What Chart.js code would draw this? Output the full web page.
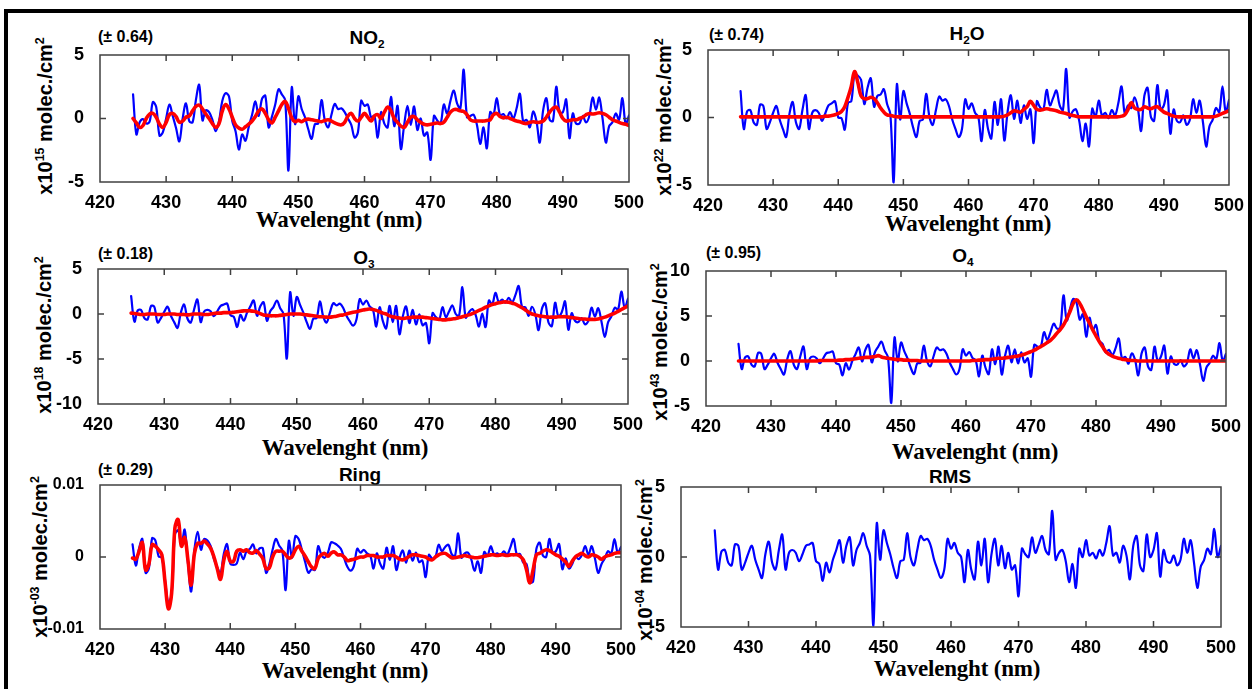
<!DOCTYPE html>
<html>
<head>
<meta charset="utf-8">
<script src="https://cdn.jsdelivr.net/npm/chart.js@4.4.1/dist/chart.umd.min.js"></script>
<style>
body        { margin: 0; background: #fff; width: 1255px; height: 689px; overflow: hidden; position: relative;
              font-family: "Liberation Sans", Arial, sans-serif; font-weight: bold; color: #000; }
#frame      { position: absolute; left: 4px; top: 9px; width: 1248px; height: 700px; box-sizing: border-box;
              border: 4px solid #000; border-bottom: none; }
.panel      { position: absolute; }
.txt        { position: absolute; white-space: nowrap; line-height: 1; }
.c          { transform: translate(-50%, -50%); }
.l          { transform: translate(0, -50%); }
.v          { transform: translate(-50%, -50%) rotate(-90deg); }
.title      { font-size: 19px; }
.err        { font-size: 16px; }
.xlab       { font-family: "Liberation Serif", "Times New Roman", serif; font-size: 23px; letter-spacing: -0.2px; }
.ylab       { font-size: 20px; }
sub, sup    { font-size: 0.62em; line-height: 0; }
</style>
</head>
<body>

<div id="frame"></div>

<div class="txt title c" style="left:367px; top:37px;">NO<sub>2</sub></div>
<div class="txt title c" style="left:967px; top:33px;">H<sub>2</sub>O</div>
<div class="txt title c" style="left:364px; top:257px;">O<sub>3</sub></div>
<div class="txt title c" style="left:963px; top:255px;">O<sub>4</sub></div>
<div class="txt title c" style="left:360px; top:474px;">Ring</div>
<div class="txt title c" style="left:950px; top:476px;">RMS</div>

<div class="txt err l" style="left:98px; top:37px;">(± 0.64)</div>
<div class="txt err l" style="left:709px; top:35px;">(± 0.74)</div>
<div class="txt err l" style="left:98px; top:254px;">(± 0.18)</div>
<div class="txt err l" style="left:706px; top:253px;">(± 0.95)</div>
<div class="txt err l" style="left:98px; top:470px;">(± 0.29)</div>

<div class="txt xlab c" style="left:339px; top:219px;">Wavelenght (nm)</div>
<div class="txt xlab c" style="left:968px; top:223px;">Wavelenght (nm)</div>
<div class="txt xlab c" style="left:345px; top:447px;">Wavelenght (nm)</div>
<div class="txt xlab c" style="left:975px; top:451px;">Wavelenght (nm)</div>
<div class="txt xlab c" style="left:345px; top:670px;">Wavelenght (nm)</div>
<div class="txt xlab c" style="left:957px; top:668px;">Wavelenght (nm)</div>

<div class="txt ylab v" style="left:45px; top:116px;">x10<sup>15</sup> molec./cm<sup>2</sup></div>
<div class="txt ylab v" style="left:664px; top:117px;">x10<sup>22</sup> molec./cm<sup>2</sup></div>
<div class="txt ylab v" style="left:44px; top:335px;">x10<sup>18</sup> molec./cm<sup>2</sup></div>
<div class="txt ylab v" style="left:660px; top:342px;">x10<sup>43</sup> molec./cm<sup>2</sup></div>
<div class="txt ylab v" style="left:40px; top:557px;">x10<sup>-03</sup> molec./cm<sup>2</sup></div>
<div class="txt ylab v" style="left:645px; top:560px;">x10<sup>-04</sup> molec./cm<sup>2</sup></div>

<script>

// wavelength grid (nm), 0.5 nm steps
var WAVELENGTHS = [
    425, 425.5, 426, 426.5, 427, 427.5, 428, 428.5, 429, 429.5,
    430, 430.5, 431, 431.5, 432, 432.5, 433, 433.5, 434, 434.5,
    435, 435.5, 436, 436.5, 437, 437.5, 438, 438.5, 439, 439.5,
    440, 440.5, 441, 441.5, 442, 442.5, 443, 443.5, 444, 444.5,
    445, 445.5, 446, 446.5, 447, 447.5, 448, 448.5, 449, 449.5,
    450, 450.5, 451, 451.5, 452, 452.5, 453, 453.5, 454, 454.5,
    455, 455.5, 456, 456.5, 457, 457.5, 458, 458.5, 459, 459.5,
    460, 460.5, 461, 461.5, 462, 462.5, 463, 463.5, 464, 464.5,
    465, 465.5, 466, 466.5, 467, 467.5, 468, 468.5, 469, 469.5,
    470, 470.5, 471, 471.5, 472, 472.5, 473, 473.5, 474, 474.5,
    475, 475.5, 476, 476.5, 477, 477.5, 478, 478.5, 479, 479.5,
    480, 480.5, 481, 481.5, 482, 482.5, 483, 483.5, 484, 484.5,
    485, 485.5, 486, 486.5, 487, 487.5, 488, 488.5, 489, 489.5,
    490, 490.5, 491, 491.5, 492, 492.5, 493, 493.5, 494, 494.5,
    495, 495.5, 496, 496.5, 497, 497.5, 498, 498.5, 499, 499.5,
    500
];

// fit residual
var RESIDUAL = [
    1.9, -0.9, 0.4, 0.5, -0.4, -0.6, 0.9, 0.8, -0.9, -0.4,
    0.3, 0.8, -0.2, -0.9, -1.5, 0.2, 1.1, -0.4, -0.9, 0.5,
    1.6, -0.9, 0.3, 0.5, 0.3, -0.3, 0.2, 0.8, 0.9, 1.0,
    -0.3, -0.5, -1.7, -0.4, -1.1, -0.2, 0.5, 1.2, -0.4, 0.8,
    1.4, -0.6, 0.5, 1.0, 1.7, 0.8, 0.1, -4.9, 2.4, -0.2,
    1.9, 1.0, 0.2, -0.8, -1.5, -0.3, -0.2, 1.7, 0.0, -0.6,
    0.5, 1.5, 1.2, 1.3, 0.8, -0.2, -0.9, -1.5, -0.9, 1.3,
    0.6, 1.0, 0.3, 0.0, -1.8, 0.5, -0.9, -1.6, 1.1, -0.6,
    1.3, -1.8, 0.2, 1.3, -0.6, 0.8, -0.8, 0.3, -0.9, -0.6,
    -2.8, 0.6, 0.2, 0.0, 1.4, 0.3, 0.9, 1.5, 0.5, 0.2,
    3.3, -0.2, 0.3, 0.5, -0.3, -1.8, -0.5, -2.2, 0.6, 0.0,
    1.2, 0.1, 0.3, -0.1, 0.5, 0.1, 1.0, 2.2, 0.1, 0.3,
    -0.4, 0.8, 0.1, -1.6, 0.8, 1.5, -0.6, -1.0, 1.6, 0.0,
    0.5, 1.7, -1.4, 0.5, -0.3, -0.4, 0.1, -0.6, -0.2, 1.3,
    0.3, 1.2, -0.4, -2.2, -0.7, -0.2, 0.6, 0.2, 2.0, 0.0,
    0.8
];

// fitted cross sections (red curves)
var FIT_NO2 = [
    0.0, -0.35, -0.7, -0.55, 0.0, 0.35, 0.4, 0.1, -0.45, -0.7,
    -0.3, 0.3, 0.4, 0.15, -0.3, -0.2, 0.1, 0.2, 0.6, 0.95,
    1.05, 0.75, 0.35, 0.0, -0.4, -0.7, -0.4, 0.6, 1.1, 0.75,
    0.1, -0.5, -0.75, -0.85, -0.65, -0.45, -0.2, 0.15, 0.6, 0.75,
    0.4, -0.1, -0.35, 0.1, 0.6, 1.1, 1.35, 0.8, 0.05, -0.25,
    -0.15, -0.25, -0.1, -0.05, -0.1, -0.15, -0.2, -0.25, -0.15, -0.1,
    -0.2, -0.35, -0.45, -0.5, -0.3, 0.2, 0.4, 0.0, -0.2, 0.1,
    0.4, 0.1, -0.2, 0.2, 0.3, 0.0, 0.5, 0.9, 0.6, 0.0,
    -0.3, -0.6, -0.7, -0.3, 0.1, 0.15, -0.1, -0.3, -0.45, -0.5,
    -0.45, -0.4, -0.35, -0.4, -0.3, 0.1, 0.5, 0.7, 0.7, 0.6,
    0.55, 0.3, -0.1, -0.2, -0.2, -0.2, -0.2, -0.15, -0.1, 0.3,
    0.4, 0.15, 0.05, 0.1, 0.0, -0.1, -0.2, -0.25, -0.35, -0.4,
    -0.3, -0.25, -0.3, -0.3, -0.2, 0.1, 0.5, 0.8, 0.9, 0.5,
    0.0, -0.2, -0.15, -0.1, -0.1, 0.0, 0.1, 0.3, 0.4, 0.35,
    0.4, 0.45, 0.4, 0.3, 0.1, -0.1, -0.2, -0.3, -0.4, -0.45,
    -0.55
];

var FIT_H2O = [
    0.05, 0.05, 0.05, 0.05, 0.05, 0.05, 0.05, 0.05, 0.05, 0.05,
    0.05, 0.05, 0.05, 0.05, 0.05, 0.05, 0.05, 0.05, 0.05, 0.05,
    0.05, 0.05, 0.05, 0.05, 0.05, 0.05, 0.1, 0.1, 0.15, 0.2,
    0.3, 0.45, 0.8, 1.5, 2.3, 3.4, 2.6, 1.6, 1.4, 1.4,
    1.5, 1.4, 1.1, 0.7, 0.4, 0.2, 0.15, 0.1, 0.05, 0.05,
    0.05, 0.05, 0.05, 0.05, 0.05, 0.05, 0.05, 0.05, 0.05, 0.05,
    0.05, 0.05, 0.05, 0.05, 0.05, 0.05, 0.05, 0.05, 0.05, 0.05,
    0.05, 0.05, 0.05, 0.05, 0.05, 0.05, 0.05, 0.05, 0.05, 0.05,
    0.05, 0.1, 0.2, 0.35, 0.5, 0.45, 0.4, 0.6, 0.8, 1.2,
    0.9, 0.6, 0.55, 0.6, 0.65, 0.6, 0.55, 0.5, 0.4, 0.35,
    0.3, 0.2, 0.15, 0.1, 0.05, 0.05, 0.05, 0.05, 0.05, 0.05,
    0.05, 0.05, 0.05, 0.05, 0.05, 0.05, 0.05, 0.1, 0.2, 0.6,
    1.1, 0.7, 0.6, 0.6, 0.8, 0.7, 0.65, 0.75, 0.8, 0.6,
    0.4, 0.3, 0.2, 0.1, 0.05, 0.05, 0.05, 0.05, 0.05, 0.05,
    0.05, 0.05, 0.05, 0.05, 0.05, 0.05, 0.1, 0.2, 0.3, 0.4,
    0.5
];

var FIT_O3 = [
    0.1, 0.05, 0.0, -0.05, -0.05, 0.0, 0.0, 0.0, -0.05, -0.05,
    -0.05, 0.0, 0.0, 0.0, -0.05, -0.05, -0.05, -0.1, -0.05, 0.0,
    0.0, 0.0, -0.05, -0.05, 0.0, 0.05, 0.1, 0.1, 0.15, 0.15,
    0.15, 0.2, 0.25, 0.3, 0.35, 0.35, 0.35, 0.3, 0.2, 0.05,
    -0.1, -0.15, -0.2, -0.2, -0.2, -0.15, -0.1, -0.05, 0.0, 0.0,
    0.0, 0.0, -0.05, -0.1, -0.15, -0.2, -0.25, -0.3, -0.3, -0.35,
    -0.35, -0.3, -0.25, -0.15, -0.1, 0.0, 0.1, 0.2, 0.25, 0.35,
    0.45, 0.5, 0.55, 0.5, 0.4, 0.25, 0.1, 0.0, -0.2, -0.3,
    -0.4, -0.45, -0.5, -0.45, -0.4, -0.35, -0.35, -0.35, -0.35, -0.4,
    -0.45, -0.5, -0.55, -0.6, -0.65, -0.65, -0.6, -0.55, -0.5, -0.4,
    -0.3, -0.2, -0.1, 0.05, 0.2, 0.4, 0.55, 0.75, 0.9, 1.05,
    1.15, 1.25, 1.3, 1.35, 1.3, 1.2, 1.1, 0.9, 0.7, 0.45,
    0.2, 0.0, -0.1, -0.2, -0.25, -0.3, -0.35, -0.35, -0.35, -0.3,
    -0.3, -0.3, -0.35, -0.4, -0.45, -0.5, -0.55, -0.55, -0.6, -0.6,
    -0.6, -0.55, -0.45, -0.35, -0.2, -0.05, 0.1, 0.3, 0.5, 0.7,
    0.9
];

var FIT_O4 = [
    0, 0, 0, 0, 0, 0, 0, 0, 0, 0,
    0, 0, 0, 0, 0, 0, 0, 0, 0, 0,
    0, 0, 0, 0, 0, 0.05, 0.05, 0.05, 0.05, 0.05,
    0.05, 0.1, 0.1, 0.15, 0.15, 0.2, 0.25, 0.3, 0.35, 0.4,
    0.4, 0.45, 0.5, 0.6, 0.45, 0.35, 0.3, 0.25, 0.2, 0.15,
    0.15, 0.1, 0.1, 0.05, 0.05, 0.05, 0, 0, 0, 0,
    0, 0, 0, 0, 0, 0, 0, 0, 0, 0,
    0, 0, 0.05, 0.05, 0.1, 0.1, 0.15, 0.15, 0.2, 0.25,
    0.3, 0.3, 0.35, 0.4, 0.45, 0.5, 0.55, 0.65, 0.75, 0.9,
    1.05, 1.2, 1.4, 1.6, 1.8, 2.05, 2.3, 2.65, 3.1, 3.5,
    4.0, 4.7, 5.5, 6.4, 6.8, 6.4, 5.7, 4.9, 4.2, 3.45,
    2.8, 2.15, 1.6, 1.05, 0.75, 0.55, 0.4, 0.3, 0.2, 0.15,
    0.1, 0.05, 0.05, 0, 0, 0, 0, 0, 0, 0,
    0, 0, 0, 0, 0, 0, 0, 0, 0, 0,
    0, 0, 0, 0, 0, 0, 0, 0, 0, 0,
    0
];

// Ring fit, in units of 1e-3
var FIT_RING = [
    -0.15, -0.3, 0.8, 2.0, -1.8, -1.0, 1.7, 1.5, 1.0, 0.3,
    -3.6, -7.2, -5.0, 4.0, 5.2, 1.5, 2.7, -0.4, -3.9, 0.5,
    1.9, 1.9, 2.2, 1.8, 1.2, 0.0, -1.6, -3.1, -0.5, 0.8,
    -0.6, -0.6, 0.8, 1.0, 0.8, 1.0, 0.6, 0.55, 0.9, 0.4,
    -0.2, -1.6, -1.5, 0.0, 0.8, 0.8, 0.8, 0.3, -0.15, 0.1,
    1.0, 1.5, 0.8, 0.1, -0.7, -1.4, -1.6, -0.2, 0.3, 0.5,
    0.1, 0.55, 0.7, 0.3, 0.3, 0.0, -0.5, -0.4, -0.3, -0.15,
    0.0, 0.0, 0.2, 0.2, 0.2, 0.0, 0.0, 0.0, 0.2, 0.2,
    0.2, 0.0, -0.3, -0.4, -0.2, 0.1, 0.3, 0.3, 0.2, 0.1,
    0.0, -0.3, -0.4, 0.0, 0.3, 0.5, 0.5, 0.2, -0.1, -0.1,
    0.0, 0.1, 0.2, 0.1, 0.0, -0.1, -0.1, 0.0, 0.1, 0.2,
    0.3, 0.3, 0.2, 0.3, 0.3, 0.2, 0.3, 0.3, 0.3, 0.1,
    -0.4, -1.8, -3.6, -1.8, 0.3, 0.5, 0.8, 1.0, 0.9, 0.6,
    0.3, 0.1, -0.3, -0.7, -1.3, -0.6, 0.0, 0.3, 0.5, 0.2,
    0.0, 0.3, 0.2, 0.0, -0.3, 0.0, 0.2, 0.3, 0.5, 0.6,
    0.6
];

var X_TICKS                                                 = [420, 430, 440, 450, 460, 470, 480, 490, 500];
var Y_TICKS_NO2                                             = [-5, 0, 5];
var Y_TICKS_H2O                                             = [-5, 0, 5];
var Y_TICKS_O3                                              = [-10, -5, 0, 5];
var Y_TICKS_O4                                              = [-5, 0, 5, 10];
var Y_TICKS_RING                                            = [-10, 0, 10];
var Y_TICKS_RMS                                             = [-5, 0, 5];


var PAD_LEFT                                                = 60;
var PAD_TOP                                                 = 20;
var PAD_RIGHT                                               = 25;
var PAD_BOTTOM                                              = 32;

var COLOR_MEASURED                                          = '#0000FF';
var COLOR_FIT                                               = '#FF0000';
var COLOR_BOX                                               = '#404040';
var TICK_LEN                                                = 6;
var TICK_FAMILY                                             = '"Liberation Sans", Arial, sans-serif';

// plot-area boxes: left, top, right, bottom
var graph_panels = [
    { fit: FIT_NO2,  y_ticks: Y_TICKS_NO2,  box: [100, 55, 629, 182],  y_font: 18 },
    { fit: FIT_H2O,  y_ticks: Y_TICKS_H2O,  box: [708, 50, 1229, 185], y_font: 18 },
    { fit: FIT_O3,   y_ticks: Y_TICKS_O3,   box: [98, 269, 628, 404],  y_font: 18 },
    { fit: FIT_O4,   y_ticks: Y_TICKS_O4,   box: [706, 271, 1226, 406], y_font: 18 },
    { fit: FIT_RING, y_ticks: Y_TICKS_RING, box: [100, 485, 621, 629], y_font: 16, ring: true },
    { fit: null,     y_ticks: Y_TICKS_RMS,  box: [681, 487, 1221, 627], y_font: 18 },
];

var graph_charts                                            = [];



var graph_box_plugin = {
    id: 'graph_box',
    afterDatasetsDraw: function(chart) {

        var ctx  = chart.ctx;
        var area = chart.chartArea;
        var sx   = chart.scales.x;
        var sy   = chart.scales.y;

        ctx.save();
        ctx.strokeStyle = COLOR_BOX;
        ctx.lineWidth   = 1.5;
        ctx.strokeRect(area.left, area.top, area.right - area.left, area.bottom - area.top);

        ctx.beginPath();
        sx.ticks.forEach(function(t) {
            if (t.value <= sx.min || t.value >= sx.max) return;
            var px = sx.getPixelForValue(t.value);
            ctx.moveTo(px, area.bottom);  ctx.lineTo(px, area.bottom - TICK_LEN);
            ctx.moveTo(px, area.top);     ctx.lineTo(px, area.top + TICK_LEN);
        });
        sy.ticks.forEach(function(t) {
            if (t.value <= sy.min || t.value >= sy.max) return;
            var py = sy.getPixelForValue(t.value);
            ctx.moveTo(area.left, py);    ctx.lineTo(area.left + TICK_LEN, py);
            ctx.moveTo(area.right, py);   ctx.lineTo(area.right - TICK_LEN, py);
        });
        ctx.stroke();
        ctx.restore();
    }
};



function graph_draw() {

    graph_panels.forEach(function(panel) {

        graph_charts.push(graph_create(panel));

    });
}



function graph_create(panel) {

    var box       = panel.box;
    var holder    = document.createElement('div');

    holder.className    = 'panel';
    holder.style.left   = (box[0] - PAD_LEFT) + 'px';
    holder.style.top    = (box[1] - PAD_TOP) + 'px';
    holder.style.width  = (box[2] - box[0] + PAD_LEFT + PAD_RIGHT) + 'px';
    holder.style.height = (box[3] - box[1] + PAD_TOP + PAD_BOTTOM) + 'px';

    var canvas = document.createElement('canvas');
    holder.appendChild(canvas);
    document.body.appendChild(holder);

    return new Chart(canvas, {
        type: 'line',
        data: graph_data(panel),
        options: graph_options(panel),
        plugins: [graph_box_plugin],
    });
}



function graph_data(panel) {

    // measured (blue) = fitted cross section + residual, as in the source figure
    var measured = [];
    var fitted   = [];

    for (var i = 0; i < WAVELENGTHS.length; i++) {

        var fit_value = panel.fit !== null ? panel.fit[i] : 0;

        measured.push({ x: WAVELENGTHS[i], y: fit_value + RESIDUAL[i] });

        if (panel.fit !== null) {
            fitted.push({ x: WAVELENGTHS[i], y: fit_value });
        }
    }

    var datasets = [
        {
            data: measured,
            borderColor: COLOR_MEASURED,
            borderWidth: 2.2,
            tension: 0.35,
            order: 2,
        },
    ];

    if (panel.fit !== null) {
        datasets.push({
            data: fitted,
            borderColor: COLOR_FIT,
            borderWidth: 3.6,
            tension: 0.4,
            order: 1,
        });
    }

    return { datasets: datasets };
}



function graph_options(panel) {

    var y_ticks = panel.y_ticks;

    return {
        responsive: true,
        maintainAspectRatio: false,
        animation: false,
        layout: {
            padding: { top: PAD_TOP, right: PAD_RIGHT, left: 0, bottom: 0 }
        },
        elements: {
            point: { radius: 0 },
            line: { borderJoinStyle: 'round', borderCapStyle: 'round' }
        },
        plugins: {
            legend: { display: false },
            tooltip: { enabled: false }
        },
        scales: {
            x: {
                type: 'linear',
                min: X_TICKS[0],
                max: X_TICKS[X_TICKS.length - 1],
                afterBuildTicks: function(axis) { axis.ticks = X_TICKS.map(function(v) { return { value: v }; }); },
                afterFit: function(axis) { axis.height = PAD_BOTTOM; },
                ticks: {
                    color: '#000000',
                    font: { family: TICK_FAMILY, weight: 'bold', size: 18 },
                    padding: 2,
                    maxRotation: 0,
                    autoSkip: false,
                },
                grid: { display: false },
                border: { display: false }
            },
            y: {
                type: 'linear',
                min: y_ticks[0],
                max: y_ticks[y_ticks.length - 1],
                afterBuildTicks: function(axis) { axis.ticks = y_ticks.map(function(v) { return { value: v }; }); },
                afterFit: function(axis) { axis.width = PAD_LEFT; },
                ticks: {
                    color: '#000000',
                    font: { family: TICK_FAMILY, weight: 'bold', size: panel.y_font },
                    padding: 8,
                    callback: function(value) { return graph_callback_ticks_y(value, panel); }
                },
                grid: { display: false },
                border: { display: false }
            }
        }
    };
}



function graph_callback_ticks_y(value, panel) {

    if (panel.ring) {
        return String(value / 1000);
    }

    return String(value);
}



graph_draw();

</script>
</body>
</html>
